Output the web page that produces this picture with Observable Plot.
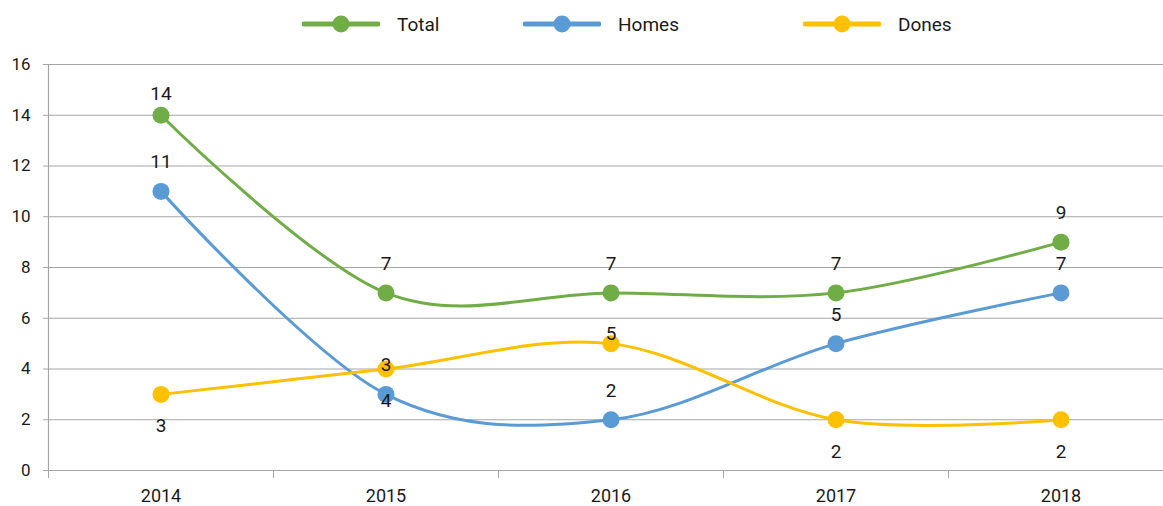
<!DOCTYPE html>
<html>
<head>
<meta charset="utf-8">
<script src="https://cdn.jsdelivr.net/npm/d3@7"></script>
<script src="https://cdn.jsdelivr.net/npm/@observablehq/plot@0.6"></script>
<style>
  body { margin: 0; background: #fff; font-family: Roboto, "Open Sans", sans-serif; }
  #legend { position: relative; height: 48px; }
  .item { position: absolute; top: 12px; display: flex; align-items: center; height: 24px; }
  .item span { font-size: 19px; color: #1a1a1a; margin-left: 17px; }
</style>
</head>
<body>
<div id="legend"></div>
<div id="chart"></div>
<script>
const years = [2014, 2015, 2016, 2017, 2018];
const seriesNames = ["Total", "Homes", "Dones"];
const seriesColors = ["#70AD47", "#5B9BD5", "#FFC000"];
const totalValues = [14, 7, 7, 7, 9];
const homesValues = [11, 3, 2, 5, 7];
const donesValues = [3, 4, 5, 2, 2];
const yTicks = [0, 2, 4, 6, 8, 10, 12, 14, 16];

const seriesValues = [totalValues, homesValues, donesValues];
const data = [];
seriesNames.forEach((s, i) => {
  years.forEach((yr, j) => {
    data.push({series: s, year: yr, value: seriesValues[i][j], label: String(seriesValues[i][j])});
  });
});
// label placement as in the original: Total & Homes above, Dones below (except 2016)
data.forEach(d => {
  if (d.series === "Dones") d.place = d.year === 2016 ? "near" : "below";
  else d.place = d.value >= 14 ? "top" : "above";
});
const bounds = d3.range(years.length + 1).map(i => years[0] - 0.5 + i);

// Legend
const legendLeft = [302, 523, 803];
const legend = document.getElementById("legend");
seriesNames.forEach((s, i) => {
  const div = document.createElement("div");
  div.className = "item";
  div.style.left = legendLeft[i] + "px";
  div.innerHTML = `<svg width="78" height="24"><line x1="2" x2="76" y1="12" y2="12" stroke="${seriesColors[i]}" stroke-width="5" stroke-linecap="round"/><circle cx="39" cy="12" r="8.5" fill="${seriesColors[i]}"/></svg><span>${s}</span>`;
  legend.appendChild(div);
});

const txt = {x: "year", y: "value", text: "label", fontSize: 19, fill: "#1a1a1a"};
const chart = Plot.plot({
  width: 1163,
  height: 458,
  marginTop: 16,
  marginBottom: 36,
  marginLeft: 48,
  marginRight: -10,
  style: {fontFamily: "Roboto, 'Open Sans', sans-serif", background: "#fff"},
  x: {type: "linear", domain: [bounds[0], bounds[bounds.length - 1]], axis: null},
  y: {domain: [0, 16], axis: null},
  color: {domain: seriesNames, range: seriesColors},
  marks: [
    Plot.ruleY(yTicks, {stroke: "#a6a6a6", strokeWidth: 1.2}),
    Plot.ruleX([bounds[0]], {stroke: "#a6a6a6", strokeWidth: 1.2}),
    Plot.axisY({anchor: "left", label: null, ticks: yTicks, tickSize: 5, tickPadding: 13, stroke: "#a6a6a6", fill: "#1a1a1a", fontSize: 17}),
    Plot.axisX({anchor: "bottom", label: null, ticks: bounds, tickSize: 8, tickFormat: () => "", stroke: "#a6a6a6"}),
    Plot.axisX({anchor: "bottom", label: null, ticks: years, tickSize: 0, tickPadding: 19, tickFormat: d => String(d), fill: "#1a1a1a", fontSize: 18}),
    Plot.line(data, {x: "year", y: "value", z: "series", stroke: "series", curve: "cardinal", strokeWidth: 3}),
    Plot.dot(data, {x: "year", y: "value", fill: "series", r: 8.5}),
    Plot.text(data.filter(d => d.place === "above"), {...txt, dy: -29}),
    Plot.text(data.filter(d => d.place === "top"), {...txt, dy: -21}),
    Plot.text(data.filter(d => d.place === "below"), {...txt, dy: 32}),
    Plot.text(data.filter(d => d.place === "near"), {...txt, dy: -10})
  ]
});
document.getElementById("chart").appendChild(chart);
</script>
</body>
</html>
